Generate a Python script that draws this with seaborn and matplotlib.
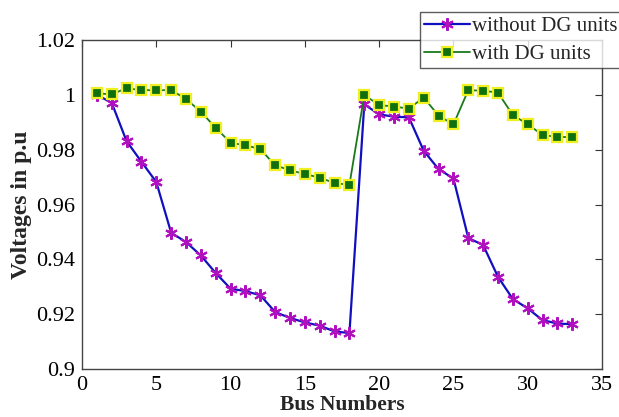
import numpy as np
import pandas as pd
import matplotlib
matplotlib.use('Agg')
import matplotlib.pyplot as plt
import seaborn as sns

# bus voltages
bus = list(range(1, 34))
v_without_dg = [1.0, 0.9971, 0.9831, 0.9756, 0.9682, 0.9497, 0.9463, 0.9414, 0.935, 0.9293,
                0.9284, 0.9269, 0.9208, 0.9186, 0.917, 0.9158, 0.9137, 0.9131,
                0.9965, 0.9929, 0.992, 0.9918, 0.9796, 0.9729, 0.9695,
                0.9478, 0.9452, 0.9336, 0.9255, 0.9221, 0.9178, 0.9166, 0.9163]
v_with_dg = [1.0005, 1.0002, 1.0024, 1.0017, 1.0017, 1.0017, 0.9985, 0.9938, 0.988, 0.9825,
             0.9816, 0.9802, 0.9743, 0.9725, 0.9711, 0.9698, 0.9678, 0.9672,
             0.9999, 0.9963, 0.9957, 0.995, 0.999, 0.9924, 0.9892,
             1.0017, 1.0015, 1.0008, 0.9926, 0.9893, 0.9853, 0.9847, 0.9845]

x_ticks = [0, 5, 10, 15, 20, 25, 30, 35]
y_ticks = [0.9, 0.92, 0.94, 0.96, 0.98, 1.0, 1.02]
y_tick_labels = ['0.9', '0.92', '0.94', '0.96', '0.98', '1', '1.02']

df = pd.DataFrame({'Bus': bus, 'without': v_without_dg, 'with': v_with_dg})

sns.set_style('white')
plt.rcParams['font.family'] = ['Liberation Serif', 'DejaVu Serif']

fig = plt.figure(figsize=(6.19, 4.17), dpi=100)
ax = fig.add_axes([82 / 619, 1 - 369 / 417, 520 / 619, 329 / 417])

sns.lineplot(data=df, x='Bus', y='without', ax=ax, color='#1010c0', linewidth=1.6,
             marker=(6, 2, 0), markersize=9, markeredgecolor='#b010c0', markeredgewidth=1.5,
             label='without DG units')
sns.lineplot(data=df, x='Bus', y='with', ax=ax, color='#1a7a1a', linewidth=1.3,
             marker='s', markersize=6.5, markerfacecolor='#107010', markeredgecolor='#f0f020',
             markeredgewidth=1.6, label='with DG units')

ax.set_xlim(0, 35)
ax.set_ylim(0.9, 1.02)
ax.set_xticks(x_ticks)
ax.set_yticks(y_ticks)
ax.set_yticklabels(y_tick_labels)
ax.tick_params(direction='in', length=5, width=0.8, top=True, right=True,
               labelsize=16, colors='#333333', labelcolor='black', pad=5)
for s in ax.spines.values():
    s.set_color('#444444')
    s.set_linewidth(1.0)

ax.set_xlabel('Bus Numbers', fontsize=15.5, fontweight='bold', labelpad=0)
ax.set_ylabel('Voltages in p.u', fontsize=17, fontweight='bold', labelpad=3)

leg = ax.legend(loc='lower left', bbox_to_anchor=(420 / 619, 1 - 68 / 417), bbox_transform=fig.transFigure,
                fontsize=15, frameon=True, fancybox=False, borderpad=0.2, labelspacing=0.4,
                handlelength=2.2, handletextpad=0.1, borderaxespad=0)
leg.get_frame().set_edgecolor('#333333')
leg.get_frame().set_linewidth(1.0)

fig.savefig('out.png', dpi=100)
